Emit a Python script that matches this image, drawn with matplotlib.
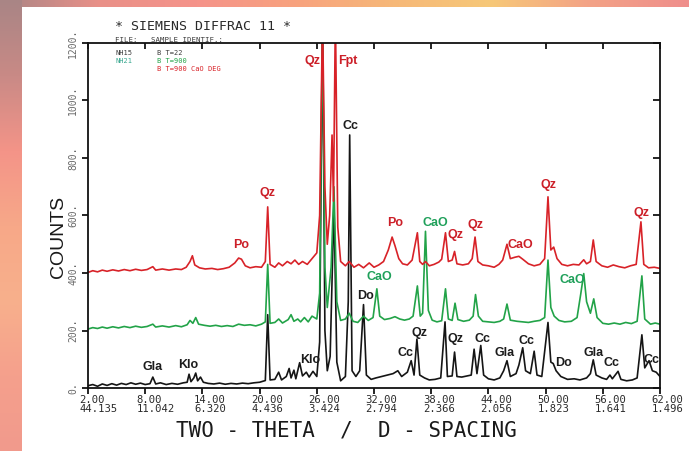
import numpy as np
import matplotlib.pyplot as plt
import matplotlib.lines as mlines
import matplotlib.transforms as mtransforms
from matplotlib.colors import LinearSegmentedColormap

# ---- data (2-theta, counts as plotted) ----
black_tt = [2.0, 2.5, 3.0, 3.5, 4.0, 4.5, 5.0, 5.5, 6.0, 6.5, 7.0, 7.5, 8.0, 8.5, 8.8, 9.1,
            9.6, 10.2, 10.8, 11.4, 12.0, 12.4, 12.6, 12.8, 13.1, 13.3, 13.5, 13.8, 14.1, 14.6,
            15.2, 15.8, 16.4, 17.0, 17.6, 18.2, 18.8, 19.4, 20.0, 20.6, 20.85, 21.1, 21.6, 22.0,
            22.3, 22.8, 23.1, 23.3, 23.6, 23.8, 24.2, 24.5, 24.9, 25.2, 25.6, 26.0, 26.3, 26.6,
            26.85, 27.1, 27.4, 27.8, 28.1, 28.5, 29.0, 29.3, 29.45, 29.7, 30.1, 30.5, 30.9, 31.2,
            31.7, 32.2, 32.8, 33.4, 34.0, 34.5, 34.9, 35.5, 35.9, 36.2, 36.5, 36.8, 37.3, 37.8,
            38.4, 39.0, 39.45, 39.7, 40.2, 40.45, 40.7, 41.2, 41.8, 42.2, 42.5, 42.8, 43.2, 43.5,
            44.0, 44.6, 45.2, 45.6, 45.95, 46.3, 46.9, 47.2, 47.6, 47.9, 48.4, 48.8, 49.1, 49.6,
            50.25, 50.55, 50.8, 51.1, 51.6, 52.3, 53.0, 53.6, 54.3, 54.7, 55.0, 55.3, 55.9, 56.4,
            56.75, 57.0, 57.6, 57.9, 58.5, 59.1, 59.6, 60.1, 60.4, 60.85, 61.2, 61.6, 62.0]
black_cts = [8, 12, 6, 14, 9, 15, 10, 16, 12, 18, 13, 17, 12, 15, 38, 14,
             18, 12, 16, 13, 18, 20, 48, 22, 35, 52, 25, 38, 20, 16,
             14, 17, 13, 16, 14, 17, 15, 18, 20, 26, 255, 28, 30, 55,
             28, 40, 68, 35, 62, 32, 88, 42, 55, 38, 58, 40, 160, 1300,
             200, 60, 110, 640, 90, 25, 40, 300, 880, 60, 40, 60, 290, 45,
             30, 35, 40, 45, 50, 60, 40, 55, 95, 45, 170, 45, 35, 28,
             30, 35, 230, 40, 42, 125, 40, 38, 42, 45, 135, 50, 148, 45,
             32, 28, 35, 60, 95, 40, 50, 80, 140, 60, 50, 128, 45, 40,
             228, 90, 85, 60, 40, 30, 32, 28, 35, 50, 98, 45, 35, 30,
             45, 32, 58, 30, 25, 28, 35, 185, 70, 95, 60, 55, 40]

green_tt = [2.0, 2.5, 3.0, 3.5, 4.0, 4.6, 5.2, 5.8, 6.4, 7.0, 7.6, 8.2, 8.8, 9.1, 9.8, 10.5,
            11.2, 11.8, 12.4, 12.7, 13.0, 13.3, 13.6, 14.2, 14.8, 15.4, 16.0, 16.6, 17.2, 17.8,
            18.4, 19.0, 19.6, 20.2, 20.6, 20.85, 21.1, 21.6, 22.0, 22.4, 23.0, 23.3, 23.6, 24.0,
            24.3, 24.7, 25.1, 25.5, 26.0, 26.3, 26.6, 26.85, 27.1, 27.5, 27.8, 28.1, 28.5, 29.0,
            29.4, 29.8, 30.3, 30.9, 31.4, 31.9, 32.3, 32.6, 33.1, 33.7, 34.2, 34.7, 35.2, 35.7,
            36.1, 36.55, 36.85, 37.1, 37.4, 37.7, 38.1, 38.6, 39.1, 39.5, 39.8, 40.2, 40.5, 40.8,
            41.4, 42.0, 42.4, 42.65, 42.95, 43.4, 44.0, 44.6, 45.2, 45.6, 45.95, 46.3, 47.0, 47.6,
            48.2, 48.8, 49.4, 49.9, 50.25, 50.55, 50.9, 51.4, 52.0, 52.7, 53.3, 53.7, 54.0, 54.3,
            54.7, 55.05, 55.4, 56.0, 56.6, 57.2, 57.8, 58.4, 59.0, 59.6, 60.1, 60.4, 61.0, 61.5, 62.0]
green_cts = [205, 210, 207, 212, 208, 213, 209, 214, 210, 215, 211, 214, 222, 212, 216, 212,
             217, 213, 220, 235, 225, 245, 222, 218, 215, 218, 214, 217, 214, 222,
             218, 220, 216, 222, 230, 430, 225, 228, 240, 226, 238, 255, 232, 240,
             230, 245, 230, 250, 240, 330, 1300, 420, 280, 420, 700, 300, 235, 240,
             260, 232, 228, 250, 235, 245, 345, 250, 238, 242, 248, 240, 236, 240,
             250, 355, 250, 260, 545, 270, 236, 230, 234, 345, 240, 235, 295, 238,
             232, 236, 250, 325, 250, 232, 230, 228, 232, 240, 292, 236, 232, 230,
             228, 232, 235, 245, 445, 280, 250, 235, 230, 232, 245, 330, 398, 300,
             260, 310, 245, 225, 222, 226, 222, 228, 224, 232, 390, 240, 222, 226, 222]

red_tt = [2.0, 2.5, 3.0, 3.5, 4.0, 4.6, 5.2, 5.8, 6.4, 7.0, 7.6, 8.2, 8.8, 9.1, 9.8, 10.5,
          11.2, 11.8, 12.3, 12.7, 12.95, 13.2, 13.7, 14.3, 15.0, 15.6, 16.2, 16.8, 17.4, 17.8,
          18.1, 18.5, 19.0, 19.6, 20.2, 20.6, 20.85, 21.1, 21.6, 22.0, 22.4, 22.9, 23.3, 23.7,
          24.1, 24.5, 25.0, 25.5, 26.0, 26.3, 26.6, 26.85, 27.1, 27.35, 27.6, 27.75, 27.95, 28.2,
          28.5, 29.0, 29.4, 29.9, 30.4, 30.9, 31.5, 32.0, 32.5, 33.0, 33.5, 33.9, 34.2, 34.6,
          35.0, 35.5, 36.0, 36.55, 36.8, 37.1, 37.4, 37.8, 38.3, 38.8, 39.1, 39.5, 39.8, 40.2,
          40.45, 40.7, 41.3, 41.9, 42.3, 42.6, 42.9, 43.4, 44.0, 44.6, 45.1, 45.5, 45.95, 46.3,
          46.8, 47.2, 47.6, 48.2, 48.8, 49.4, 49.9, 50.25, 50.55, 50.85, 51.2, 51.7, 52.3, 52.9,
          53.5, 54.0, 54.3, 54.7, 55.0, 55.3, 55.9, 56.5, 57.1, 57.7, 58.3, 58.9, 59.5, 60.0,
          60.3, 60.8, 61.4, 62.0]
red_cts = [402, 408, 404, 410, 406, 411, 407, 412, 408, 413, 409, 412, 422, 410, 414, 410,
           414, 412, 420, 440, 460, 428, 418, 414, 416, 412, 415, 420, 435, 452,
           448, 425, 418, 422, 420, 440, 630, 430, 420, 435, 425, 440, 432, 445,
           430, 440, 430, 450, 470, 600, 1300, 700, 500, 600, 880, 650, 1300, 560,
           440, 425, 440, 420, 430, 418, 435, 420, 428, 440, 480, 525, 495, 450,
           432, 428, 445, 540, 440, 430, 440, 425, 430, 438, 448, 540, 440, 445,
           475, 432, 428, 432, 450, 525, 440, 428, 425, 420, 430, 445, 500, 450,
           455, 458, 448, 432, 425, 430, 450, 665, 480, 490, 450, 430, 425, 430,
           428, 446, 432, 440, 515, 440, 425, 420, 428, 422, 418, 425, 430, 578,
           430, 418, 420, 416]

# phase labels: (text, 2-theta, counts, series)
phase_labels = [
    ("Gla", 8.8, 72, "black"), ("Klo", 12.5, 79, "black"), ("Klo", 25.3, 96, "black"),
    ("Cc", 29.5, 912, "black"), ("Do", 31.1, 319, "black"), ("Cc", 35.3, 123, "black"),
    ("Qz", 36.8, 192, "black"), ("Qz", 40.6, 171, "black"), ("Cc", 43.4, 171, "black"),
    ("Gla", 45.7, 123, "black"), ("Cc", 48.0, 165, "black"), ("Do", 51.9, 86, "black"),
    ("Gla", 55.0, 123, "black"), ("Cc", 56.9, 86, "black"), ("Cc", 61.1, 96, "black"),
    ("CaO", 32.6, 387, "green"), ("CaO", 38.4, 573, "green"), ("CaO", 52.8, 374, "green"),
    ("Qz", 25.6, 1138, "red"), ("Fpt", 29.3, 1138, "red"), ("Po", 18.1, 497, "red"),
    ("Qz", 20.8, 679, "red"), ("Po", 34.2, 573, "red"), ("Qz", 40.5, 531, "red"),
    ("Qz", 42.6, 566, "red"), ("CaO", 47.4, 497, "red"), ("Qz", 50.3, 706, "red"),
    ("Qz", 60.1, 610, "red"),
]

x_ticks = [2, 8, 14, 20, 26, 32, 38, 44, 50, 56, 62]
d_spacing = ["44.135", "11.042", "6.320", "4.436", "3.424", "2.794",
             "2.366", "2.056", "1.823", "1.641", "1.496"]
y_ticks = [0, 200, 400, 600, 800, 1000, 1200]

line_col = {"black": "#151515", "green": "#22a348", "red": "#d82228"}
text_col = {"black": "#1c1c1c", "green": "#1fa05a", "red": "#cc1f28"}

W, H = 689, 451
fig = plt.figure(figsize=(W / 100, H / 100), dpi=100)
fig.patch.set_facecolor("white")

# scanned-page backdrop strips
top_cmap = LinearSegmentedColormap.from_list(
    "top", ["#a98585", "#e99088", "#f5938a", "#f8a27e", "#f6b878", "#f7c878", "#f3a286", "#ef8e8c"])
left_cmap = LinearSegmentedColormap.from_list(
    "left", ["#a98585", "#c98a86", "#f49488", "#f7a888", "#f8b08c", "#f5a08c", "#f19a8c"])
axt = fig.add_axes([0, 1 - 7 / H, 1, 7 / H])
axt.imshow(np.linspace(0, 1, 256)[None, :], cmap=top_cmap, aspect="auto")
axt.axis("off")
axl = fig.add_axes([0, 0, 22 / W, 1])
axl.imshow(np.linspace(0, 1, 256)[:, None], cmap=left_cmap, aspect="auto")
axl.axis("off")

ax = fig.add_axes([88 / W, 1 - 388 / H, 572 / W, 345 / H])
ax.set_facecolor("white")

ax.plot(black_tt, black_cts, color=line_col["black"], lw=1.2)
ax.plot(green_tt, green_cts, color=line_col["green"], lw=1.2)
ax.plot(red_tt, red_cts, color=line_col["red"], lw=1.2)

ax.set_xlim(2, 62)
ax.set_ylim(0, 1200)

for s in ax.spines.values():
    s.set_linewidth(1.3)
    s.set_color("#111111")

ax.set_yticks(y_ticks)
ax.set_yticklabels([f"{v}." for v in y_ticks], rotation=90, va="center",
                   family="DejaVu Sans Mono", fontsize=7, color="#6a6a6a")
ax.tick_params(axis="y", left=True, right=True, direction="out", length=4, width=1.2, pad=3)

ax.set_xticks(x_ticks)
ax.set_xticklabels([f"{v:.2f}\n{d}" for v, d in zip(x_ticks, d_spacing)],
                   ha="left", family="DejaVu Sans Mono", fontsize=7.6,
                   color="#2a2a2a", linespacing=0.85)
ax.tick_params(axis="x", bottom=True, top=True, direction="out", length=4, width=1.2, pad=1)
shift = mtransforms.ScaledTranslation(-6 / 72, 0, fig.dpi_scale_trans)
for lab in ax.get_xticklabels():
    lab.set_transform(lab.get_transform() + shift)

# right and top ticks point into the frame, as on the printout
for t in ax.yaxis.get_major_ticks():
    t.tick2line.set_marker(mlines.TICKLEFT)
    t.tick2line.set_markersize(5)
for t in ax.xaxis.get_major_ticks():
    t.tick2line.set_marker(mlines.TICKDOWN)
    t.tick2line.set_markersize(4)

for txt, tt, c, series in phase_labels:
    ax.text(tt, c, txt, ha="center", va="center", color=text_col[series],
            fontsize=9, fontweight="bold", family="Liberation Sans", clip_on=False)

# header texts of the diffractometer printout
def px(x, y):
    return x / W, 1 - y / H

fig.text(*px(115, 26), "* SIEMENS DIFFRAC 11 *", family="DejaVu Sans Mono",
         fontsize=9.5, color="#2a2a2a", va="center")
fig.text(*px(115, 40), "FILE:   SAMPLE IDENTIF.:", family="DejaVu Sans Mono",
         fontsize=5.3, color="#3a3a3a", va="center")
fig.text(*px(115, 53), "NH15", family="DejaVu Sans Mono", fontsize=5, color="#3a3a3a", va="center")
fig.text(*px(157, 53), "B T=22", family="DejaVu Sans Mono", fontsize=5, color="#3a3a3a", va="center")
fig.text(*px(115, 61), "NH21", family="DejaVu Sans Mono", fontsize=5, color="#3aa890", va="center")
fig.text(*px(157, 61), "B T=900", family="DejaVu Sans Mono", fontsize=5, color="#22a348", va="center")
fig.text(*px(157, 69), "B T=900 CaO DEG", family="DejaVu Sans Mono", fontsize=5, color="#d82228", va="center")

fig.text(*px(59, 237), "COUNTS", family="Liberation Sans", fontsize=14, rotation=90,
         ha="center", va="center", color="#1a1a1a")
fig.text(*px(346, 431), "TWO - THETA  /  D - SPACING", family="DejaVu Sans Mono",
         fontsize=15, ha="center", va="center", color="#1a1a1a")

fig.savefig("out.png", dpi=100)
